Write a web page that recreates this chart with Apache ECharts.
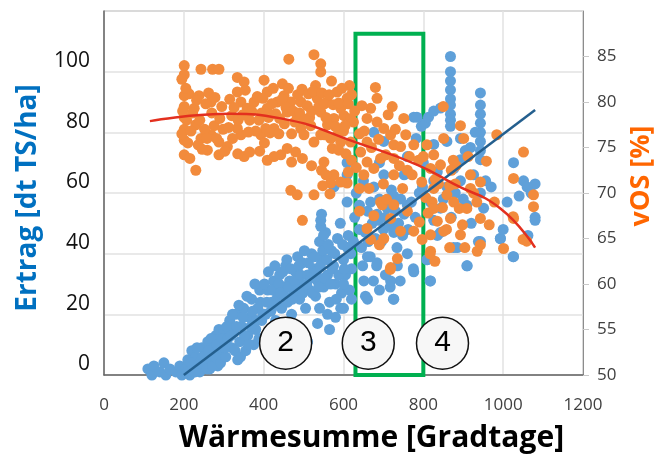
<!DOCTYPE html>
<html>
<head>
<meta charset="utf-8">
<script src="https://cdn.jsdelivr.net/npm/echarts@6/dist/echarts.min.js"></script>
<style>
  html, body { margin: 0; padding: 0; background: #fff; }
  #chart { width: 664px; height: 466px; }
</style>
</head>
<body>
<div id="chart"></div>
<script>
// Ertrag [dt TS/ha] vs. Wärmesumme
const ertragPoints = [
  [110, 2], [120, 0], [125, 3], [140, 1], [150, 4], [155, 0], [165, 2], [180, 1], [190, 3], [195, 0],
  [205, 2], [210, 5], [215, 0], [220, 8], [225, 3], [230, 6], [240, 1], [245, 9], [250, 4], [255, 7],
  [260, 11], [265, 2], [270, 5], [275, 9], [280, 13], [285, 3], [288, 15], [290, 7], [295, 10], [300, 15],
  [208, 1], [218, 4], [228, 1], [233, 9], [238, 4], [248, 6], [258, 2], [262, 8], [268, 12], [272, 3],
  [278, 6], [283, 10], [292, 4], [298, 12],
  [305, 6], [310, 12], [315, 18], [320, 9], [325, 14], [330, 20], [335, 5], [340, 11], [345, 16], [350, 22],
  [355, 8], [360, 13], [365, 19], [370, 25], [375, 10], [380, 15], [385, 22], [390, 28], [395, 18], [400, 12],
  [302, 9], [308, 16], [318, 13], [322, 20], [328, 8], [332, 16], [338, 23], [342, 6], [348, 19], [352, 13],
  [358, 26], [362, 10], [368, 16], [372, 21], [378, 30], [382, 18], [388, 12], [392, 24], [398, 20],
  [405, 20], [410, 28], [415, 14], [420, 24], [425, 31], [430, 18], [435, 26], [440, 33], [445, 22], [450, 29],
  [455, 36], [460, 24], [465, 31], [470, 20], [475, 27], [480, 34], [485, 39], [490, 25], [495, 30], [497, 37],
  [402, 30], [408, 24], [412, 34], [418, 21], [422, 28], [428, 36], [432, 23], [438, 30], [442, 27], [448, 34],
  [452, 26], [458, 38], [462, 29], [468, 35], [472, 25], [478, 31], [482, 28], [488, 36], [492, 33], [498, 27],
  [505, 22], [510, 33], [515, 28], [520, 40], [525, 35], [530, 26], [535, 31], [540, 44], [545, 38], [550, 29],
  [555, 47], [560, 33], [565, 24], [570, 41], [575, 36], [580, 30], [585, 45], [592, 50], [595, 27], [600, 38],
  [605, 33], [610, 42], [615, 28], [620, 35], [535, 17], [510, 11], [543, 49], [543, 51], [545, 53], [550, 46],
  [502, 41], [508, 30], [512, 37], [518, 32], [522, 27], [528, 39], [532, 34], [538, 29], [542, 36], [548, 41],
  [552, 32], [558, 38], [562, 43], [568, 30], [572, 35], [578, 40], [582, 25], [588, 33], [598, 43], [602, 35],
  [612, 46], [618, 40], [560, 20], [580, 19], [600, 22], [540, 22], [565, 15],
  [609, 57], [576, 62], [609, 66], [609, 70], [593, 22], [600, 30], [625, 44], [620, 25],
  [660, 54], [690, 58], [720, 61], [760, 56], [667, 39], [683, 36], [717, 29], [742, 31], [655, 26], [675, 31],
  [725, 25], [775, 35], [676, 62], [701, 66], [726, 59], [743, 58], [684, 53], [709, 55], [726, 47], [734, 42],
  [668, 57], [676, 80], [701, 77], [776, 85], [776, 34], [718, 31], [726, 25], [660, 25], [651, 31], [660, 39],
  [684, 37], [700, 48], [650, 64], [690, 70],
  [640, 48], [645, 42], [655, 47], [662, 44], [672, 50], [680, 45], [688, 51], [695, 44], [705, 52], [712, 58],
  [718, 49], [730, 54], [738, 50], [748, 46], [752, 53], [762, 48], [770, 57], [780, 52], [790, 60], [798, 62],
  [752, 66], [760, 72], [782, 78], [795, 82], [805, 83], [800, 70], [760, 40], [735, 36], [705, 33], [690, 28],
  [648, 36], [640, 56], [632, 60], [628, 52],
  [868, 105], [868, 100], [868, 97], [868, 94], [868, 91], [868, 89], [868, 86], [868, 84], [868, 82],
  [943, 93], [943, 89], [943, 86], [943, 83], [943, 80], [943, 77], [943, 74], [943, 71],
  [813, 85], [826, 87], [843, 88], [784, 85], [826, 76], [859, 77], [893, 78], [918, 75], [826, 64], [859, 62],
  [818, 57], [843, 55], [826, 51], [835, 46], [876, 42], [943, 44], [893, 64], [926, 66], [993, 45], [1026, 39],
  [909, 36], [818, 31], [809, 38], [810, 38], [817, 31], [910, 36], [1025, 39], [1080, 52], [993, 45], [938, 44],
  [885, 42], [843, 47], [943, 60], [1026, 70], [1051, 64], [1080, 63], [1080, 51], [951, 55], [909, 56], [893, 71],
  [876, 68], [1060, 62], [1040, 59],
  [880, 60], [900, 58], [920, 50], [870, 52], [850, 58], [835, 67], [905, 74], [930, 80], [956, 64], [970, 62],
  [1000, 48], [1010, 57], [1062, 46], [1070, 60]
];

// vOS [%] vs. Wärmesumme
const vosPoints = [
  [201, 84], [201, 83], [243, 83.6], [272, 83.6], [288, 83.6], [334, 82.7], [351, 82.2], [401, 82.4], [409, 81.1],
  [447, 82], [463, 84.7], [526, 85.2], [543, 84.2], [543, 83.3],
  [201, 80.7], [201, 79.5], [201, 78.3], [201, 77], [201, 75.8], [201, 74.2], [213, 80.9], [238, 80.7],
  [226, 79.3], [230, 77.5], [243, 76], [236, 75.3], [268, 80], [276, 77.4], [268, 76.4], [288, 75.6], [309, 75.1],
  [288, 74.2], [259, 74.7], [334, 81.1], [343, 80], [359, 79.3], [376, 80], [343, 76.4], [334, 77.1], [351, 74],
  [393, 76.4], [405, 77.1], [426, 77.1], [409, 79.3], [434, 80], [451, 80.7], [468, 80], [493, 80], [509, 79.6],
  [534, 80.4], [559, 80], [584, 81.1], [609, 80.4], [593, 79.3], [459, 78.9], [484, 78.2], [493, 77.1], [518, 77.4],
  [543, 78.9], [576, 78.2], [601, 78.5], [618, 78.2], [501, 76.4], [526, 75.6], [543, 76.4], [568, 76], [593, 75.6],
  [618, 75.6], [459, 74.9], [443, 74.2], [426, 74], [409, 73.6], [497, 73.8], [551, 73.4], [572, 74.9], [588, 74.7],
  [230, 72.5], [468, 70.3], [484, 69.8], [526, 69.8], [497, 67], [568, 71.1], [576, 72], [609, 71.1], [593, 71.2],
  [320, 78.5], [365, 78], [380, 76.8], [420, 79.8], [470, 76.5], [515, 78.3], [560, 77.5], [600, 76.8], [625, 77.8],
  [255, 79.8], [290, 78.2], [315, 80.3], [395, 78.8], [440, 78.2], [485, 80.8], [530, 81.8], [570, 82.3], [615, 81.8],
  [195, 82.5], [205, 81.5], [197, 79], [207, 78], [195, 76.5], [210, 75.5], [215, 73.8], [222, 78.8], [218, 76.8],
  [232, 80.2], [240, 78], [246, 74.8], [252, 77], [258, 76], [262, 81], [270, 78.8], [278, 80.5], [282, 76],
  [295, 79.5], [298, 77], [303, 74.6], [312, 77.2], [322, 76], [326, 79.4], [336, 78], [348, 78.6], [354, 81.3],
  [362, 76.7], [370, 79], [384, 80.6], [388, 78], [398, 80.4], [402, 75.5], [412, 78.3], [416, 76.6], [424, 81.5],
  [430, 78.7], [438, 76.5], [446, 80.3], [452, 77.6], [456, 79.4], [462, 81.5], [474, 79], [478, 77.8], [490, 78.8],
  [496, 81.4], [504, 78.1], [512, 80.9], [520, 79], [524, 81.2], [538, 79.5], [546, 81], [552, 79.8], [556, 78.3],
  [564, 80.8], [574, 79.7], [580, 77.3], [588, 79.9], [596, 81.5], [604, 77.4], [612, 79.8], [620, 80.8], [628, 79],
  [552, 76.4], [584, 76.3], [606, 74.3], [620, 73.6], [632, 72.8], [612, 72.3], [545, 72.5], [520, 73], [480, 74.5],
  [470, 73.4], [390, 74.6], [335, 74.3], [365, 74.5], [556, 72], [548, 70.8], [566, 69.9],
  [680, 81.6], [684, 80.4], [668, 79.3], [659, 78.2], [684, 77.8], [701, 77.1], [722, 79.5], [718, 76.4], [726, 75.3],
  [659, 75.6], [643, 74.5], [659, 73.4], [676, 72.7], [651, 72], [693, 73.8], [726, 73.8], [726, 72], [743, 75.1],
  [751, 78.2], [776, 75.3], [659, 66.1], [701, 65], [718, 67.2], [743, 65.8], [776, 65.8], [718, 61.8], [693, 69],
  [726, 68.7], [697, 68.7], [640, 70.5], [700, 71], [760, 72.5], [640, 76.5],
  [646, 79.6], [652, 76.8], [670, 75], [688, 75.9], [706, 74.2], [712, 78.6], [730, 77], [740, 73], [748, 70.5],
  [756, 76.4], [765, 74], [772, 72], [788, 73.6], [796, 71.2], [806, 69.5], [812, 67.8], [822, 69], [838, 71],
  [848, 68.4], [858, 66], [866, 70.8], [882, 73], [890, 68.3], [898, 66.5], [904, 64], [912, 74], [926, 70],
  [958, 73.5], [965, 66.5], [978, 69], [640, 68], [664, 70.5], [676, 67.5], [708, 69.3], [735, 62.8], [690, 64.3],
  [668, 64.9], [760, 68], [790, 66.8], [797, 64.9], [829, 62.5], [866, 64], [875, 73.6], [850, 79.5],
  [809, 75.3], [826, 74.2], [851, 76], [893, 77.4], [901, 76], [818, 72.7], [843, 73.1], [826, 70.5], [859, 69.8],
  [826, 68.3], [835, 66.9], [818, 65.4], [868, 67.2], [851, 65.8], [893, 65.4], [818, 63.6], [918, 72], [918, 70.5],
  [934, 69], [943, 67.2], [943, 64.3], [909, 68.3], [984, 76.4], [1051, 74.5], [1026, 71.6], [1026, 67.2],
  [1001, 63.9], [1076, 68.5], [1076, 69.8], [1059, 64.7], [943, 71.2], [876, 69], [1025, 67.4], [1050, 64.9],
  [935, 63.6], [717, 61.6], [817, 63.3], [800, 74], [830, 71.5], [870, 72.5], [880, 71]
];

// linear trend of Ertrag and polynomial trend of vOS
const ertragTrend = [[200, 0], [1080, 87.4]];
const vosTrend = [[115, 77.9], [317, 78.7], [443, 78.2], [642, 75.4], [785, 73.1], [876, 71], [993, 68.3], [1080, 64]];

// numbered markers and the highlighted range
const phaseMarks = [[455, 10.5, '2'], [662, 10.5, '3'], [848, 10.5, '4']];
const boxRange = [630, 800];
const boxTop = 113;

const xTicks = [0, 1200, 200];
const ertragTicks = [0, 120, 20];
const vosTicks = [50, 90, 5];

const chart = echarts.init(document.getElementById('chart'));
chart.setOption({
  animation: false,
  grid: {
    left: 104, right: 81, top: 11, bottom: 91,
    show: true, borderColor: '#8c8c8c', borderWidth: 1
  },
  xAxis: {
    type: 'value',
    min: xTicks[0], max: xTicks[1], interval: xTicks[2],
    axisLine: { show: true, lineStyle: { color: '#666', width: 1.5 } },
    axisTick: { show: false },
    splitLine: { show: true, lineStyle: { color: '#e2e2e2', width: 1.5 } },
    axisLabel: { color: '#404040', fontSize: 17, fontFamily: 'Open Sans', margin: 22, formatter: v => String(v) },
    name: 'Wärmesumme [Gradtage]',
    nameLocation: 'middle',
    nameGap: 48,
    nameTextStyle: {
      color: '#000', fontSize: 30, fontWeight: 'bold', fontFamily: 'Open Sans',
      padding: [0, 0, 0, 56]
    }
  },
  yAxis: [
    {
      type: 'value',
      min: ertragTicks[0], max: ertragTicks[1], interval: ertragTicks[2],
      axisLine: { show: true, lineStyle: { color: '#666', width: 1.5 } },
      axisTick: { show: false },
      splitLine: { show: true, lineStyle: { color: '#e2e2e2', width: 1.5 } },
      axisLabel: {
        color: '#111', fontSize: 21, fontFamily: 'Open Sans', margin: 14,
        verticalAlign: 'bottom', showMaxLabel: false
      },
      name: 'Ertrag [dt TS/ha]',
      nameLocation: 'middle',
      nameRotate: 90,
      nameGap: 62,
      nameTextStyle: { color: '#0070c0', fontSize: 28, fontWeight: 'bold', fontFamily: 'Open Sans', padding: [0, 10, 0, 0] }
    },
    {
      type: 'value',
      position: 'right',
      min: vosTicks[0], max: vosTicks[1], interval: vosTicks[2],
      axisLine: { show: true, lineStyle: { color: '#8c8c8c' } },
      axisTick: { show: true, length: 6, lineStyle: { color: '#c8c8c8' } },
      splitLine: { show: false },
      axisLabel: { color: '#404040', fontSize: 17, fontFamily: 'Open Sans', margin: 14, showMaxLabel: false },
      name: 'vOS [%]',
      nameLocation: 'middle',
      nameRotate: 90,
      nameGap: 38,
      nameTextStyle: { color: '#ff6600', fontSize: 27, fontWeight: 'bold', fontFamily: 'Open Sans', padding: [0, 0, 0, 34] }
    }
  ],
  series: [
    {
      name: 'Ertrag',
      type: 'scatter',
      yAxisIndex: 0,
      symbolSize: 11,
      itemStyle: { color: '#5fa0d9', opacity: 1 },
      data: ertragPoints,
      z: 2
    },
    {
      name: 'vOS',
      type: 'scatter',
      yAxisIndex: 1,
      symbolSize: 11,
      itemStyle: { color: '#f28b3c', opacity: 1 },
      data: vosPoints,
      z: 3
    },
    {
      type: 'line',
      yAxisIndex: 0,
      data: ertragTrend,
      symbol: 'none',
      lineStyle: { color: '#245f8e', width: 2.5 },
      z: 4
    },
    {
      type: 'line',
      yAxisIndex: 1,
      data: vosTrend,
      smooth: true,
      symbol: 'none',
      lineStyle: { color: '#e3301f', width: 2.5 },
      z: 4,
      // green frame around the transition range
      markArea: {
        silent: true,
        itemStyle: { color: 'rgba(0,0,0,0)', borderColor: '#00b050', borderWidth: 4 },
        data: [[{ xAxis: boxRange[0], yAxis: 50 }, { xAxis: boxRange[1], yAxis: 50 + boxTop * 3.033 / 9.14 }]]
      }
    },
    {
      type: 'scatter',
      yAxisIndex: 0,
      symbolSize: 52,
      itemStyle: { color: '#f7f7f7', borderColor: '#111', borderWidth: 1.5, opacity: 1 },
      label: {
        show: true, position: 'inside', color: '#000', fontSize: 30, fontFamily: 'Liberation Sans',
        formatter: p => p.value[2]
      },
      data: phaseMarks,
      z: 10
    }
  ]
});
</script>
</body>
</html>
